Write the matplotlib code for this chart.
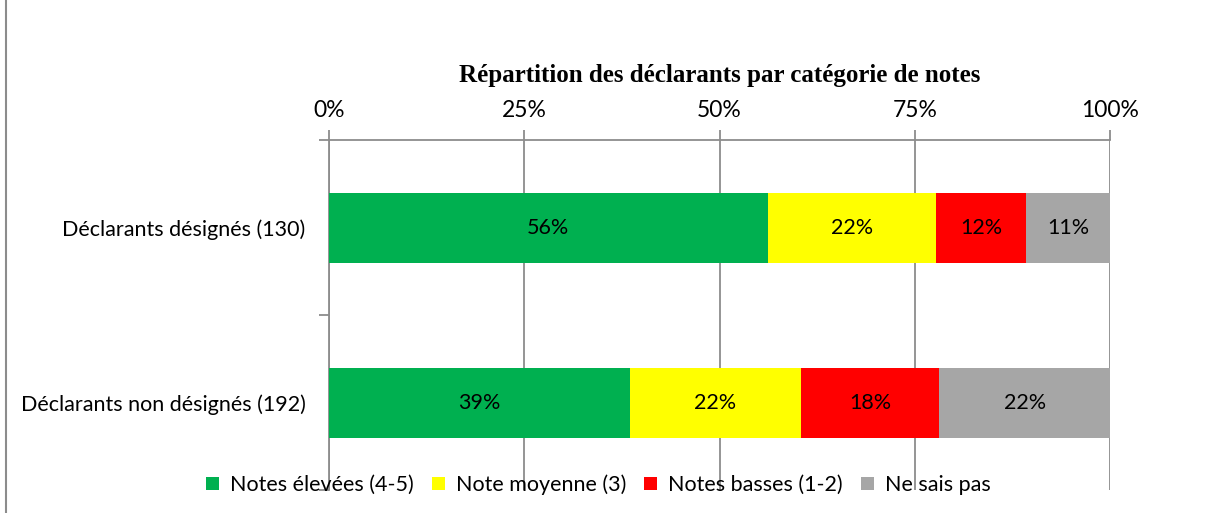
import matplotlib.pyplot as plt
from matplotlib.lines import Line2D
from matplotlib.patches import Patch

# répondants par catégorie de notes (effectifs)
groups   = ["Déclarants désignés (130)", "Déclarants non désignés (192)"]
cats     = ["Notes élevées (4-5)", "Note moyenne (3)", "Notes basses (1-2)", "Ne sais pas"]
counts   = [[73, 28, 15, 14],
            [74, 42, 34, 42]]
colors   = ["#00B050", "#FFFF00", "#FF0000", "#A6A6A6"]
xticks   = [0, 25, 50, 75, 100]

FONT  = "Lato"
FS    = 15.5
GRID  = "#8C8C8C"

fig = plt.figure(figsize=(12.1, 5.13), dpi=100)
ax = fig.add_axes([0.2719, 0.0448, 0.6455, 0.6823])

for i, row in enumerate(counts):
    total = sum(row)
    left = 0.0
    for j, c in enumerate(row):
        pct = 100.0 * c / total
        ax.barh(i, pct, left=left, height=0.4, color=colors[j], zorder=3)
        ax.text(left + pct / 2, i, f"{pct:.0f}%", ha="center", va="center",
                fontsize=FS, family=FONT, color="black", zorder=4)
        left += pct

ax.set_xlim(0, 100)
ax.set_ylim(1.5, -0.5)
ax.xaxis.tick_top()
ax.set_xticks(xticks)
ax.set_xticklabels([f"{t}%" for t in xticks], fontsize=16.5, family=FONT)
ax.tick_params(axis="x", length=7, width=1.3, color=GRID, pad=7)
ax.grid(axis="x", color=GRID, lw=1.3, zorder=1)

# graduations entre catégories, libellés au centre
ax.set_yticks([-0.5, 0.5, 1.5])
ax.set_yticklabels([])
ax.set_yticks([0, 1], minor=True)
ax.set_yticklabels(groups, minor=True, fontsize=FS, family=FONT)
ax.tick_params(axis="y", which="major", length=7, width=1.3, color=GRID)
ax.tick_params(axis="y", which="minor", length=0, pad=17)

for side in ["right", "bottom"]:
    ax.spines[side].set_visible(False)
for side in ["top", "left"]:
    ax.spines[side].set_color(GRID)
    ax.spines[side].set_linewidth(1.3)

fig.text(0.5946, 0.853, "Répartition des déclarants par catégorie de notes",
         ha="center", va="center", fontsize=18, fontweight="bold",
         family="Liberation Serif")

handles = [Patch(facecolor=c, edgecolor="none") for c in colors]
fig.legend(handles, cats, loc="center", bbox_to_anchor=(0.4946, 0.055), ncol=4,
           frameon=False, prop={"family": FONT, "size": FS},
           handlelength=0.6, handleheight=0.6, handletextpad=0.5,
           columnspacing=0.85)

# bordure gauche de la zone graphique
fig.add_artist(Line2D([0.005, 0.005], [0, 1], transform=fig.transFigure,
                      color="#8C8C8C", lw=1.5))

fig.savefig("out.png", dpi=100)
